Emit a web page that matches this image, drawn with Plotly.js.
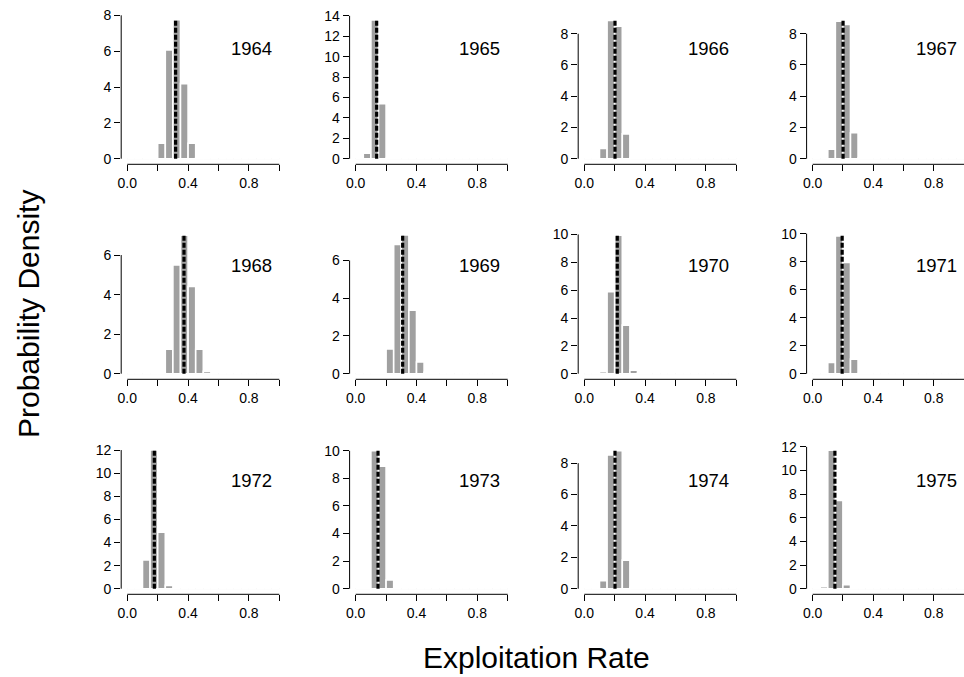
<!DOCTYPE html>
<html>
<head>
<meta charset="utf-8">
<script src="https://cdn.plot.ly/plotly-3.0.1.min.js"></script>
<style>html,body{margin:0;padding:0;background:#fff;}#chart{width:964px;height:677px;}</style>
</head>
<body>
<div id="chart"></div>
<script>
// ---- data ----
const years = ['1964','1965','1966','1967','1968','1969','1970','1971','1972','1973','1974','1975'];
const binMid = [0.025,0.075,0.125,0.175,0.225,0.275,0.325,0.375,0.425,0.475,0.525,0.575,0.625,0.675,0.725,0.775,0.825,0.875,0.925,0.975];
const d1964 = [0,0,0,0.02,0.86,6.07,7.75,4.19,0.86,0.05,0,0,0,0,0,0,0,0,0,0];
const d1965 = [0,0.55,13.6,5.38,0.05,0,0,0,0,0,0,0,0,0,0,0,0,0,0,0];
const d1966 = [0,0,0.66,8.85,8.49,1.59,0.05,0,0,0,0,0,0,0,0,0,0,0,0,0];
const d1967 = [0,0,0.61,8.8,8.6,1.66,0.05,0,0,0,0,0,0,0,0,0,0,0,0,0];
const d1968 = [0,0,0,0,0.05,1.24,5.5,7.0,4.41,1.24,0.12,0,0,0,0,0,0,0,0,0];
const d1969 = [0,0,0,0.02,1.31,6.85,7.35,3.36,0.62,0.07,0,0,0,0,0,0,0,0,0,0];
const d1970 = [0,0,0.15,5.88,9.95,3.49,0.26,0.03,0,0,0,0,0,0,0,0,0,0,0,0];
const d1971 = [0,0,0.8,9.84,7.94,1.04,0.02,0,0,0,0,0,0,0,0,0,0,0,0,0];
const d1972 = [0,0,2.48,12.0,4.9,0.29,0,0,0,0,0,0,0,0,0,0,0,0,0,0];
const d1973 = [0,0.1,10.0,8.89,0.63,0,0,0,0,0,0,0,0,0,0,0,0,0,0,0];
const d1974 = [0,0,0.51,8.53,8.79,1.82,0.07,0,0,0,0,0,0,0,0,0,0,0,0,0];
const d1975 = [0,0.17,11.72,7.47,0.34,0,0,0,0,0,0,0,0,0,0,0,0,0,0,0];
const densities = [d1964,d1965,d1966,d1967,d1968,d1969,d1970,d1971,d1972,d1973,d1974,d1975];
const estimate = [0.318,0.138,0.202,0.201,0.373,0.309,0.217,0.195,0.178,0.147,0.202,0.147];
const lineTop  = [7.8,13.7,8.95,8.95,7.07,7.41,10.04,9.98,12.1,10.14,8.91,11.83];
const yTickMax = [8,14,8,8,6,6,10,10,12,10,8,12];
const xTickVals = [0,0.2,0.4,0.6,0.8,1.0];
const xTickText = ['0.0','','0.4','','0.8',''];

// ---- layout geometry (pixels) ----
const W = 964, H = 677;
const colLeft = [121.2, 349.6, 578.2, 806.6];
const colW = 164.2;
const rowTop = [13.3, 228.3, 443.3];
const rowH = 151;
const yearY = [49, 265.5, 480.5];
const FONT = 'Liberation Sans, Arial, sans-serif';

const traces = [];
const layout = {
  width: W, height: H,
  margin: {l:0, r:0, t:0, b:0},
  paper_bgcolor: '#fff', plot_bgcolor: '#fff',
  showlegend: false, bargap: 0,
  font: {family: FONT, color: '#000'},
  shapes: [], annotations: []
};

for (let i = 0; i < 12; i++) {
  const r = Math.floor(i / 4), c = i % 4;
  const s = i === 0 ? '' : String(i + 1);
  const xa = 'x' + s, ya = 'y' + s;
  const left = colLeft[c];
  const right = Math.min(left + colW, W);
  const xEnd = c === 3 ? 1.0 : 1.04;
  const top = rowTop[r], bot = rowTop[r] + rowH;

  traces.push({
    type: 'bar', x: binMid, y: densities[i], width: 0.05,
    xaxis: xa, yaxis: ya,
    marker: {color: '#a0a0a0', line: {color: '#ffffff', width: 1.6}},
    hoverinfo: 'skip'
  });
  traces.push({
    type: 'scatter', mode: 'lines',
    x: [estimate[i], estimate[i]], y: [0, lineTop[i]],
    xaxis: xa, yaxis: ya,
    line: {color: '#000', width: 3.2, dash: '5px,2px'},
    hoverinfo: 'skip'
  });

  layout['xaxis' + s] = {
    domain: [left / W, right / W], range: [-0.04, xEnd], anchor: ya,
    tickmode: 'array', tickvals: xTickVals, ticktext: xTickText,
    ticks: 'outside', ticklen: 6, tickwidth: 1, tickcolor: '#000',
    showgrid: false, zeroline: false, showline: false,
    tickfont: {family: FONT, size: 14, color: '#000'}, fixedrange: true
  };
  layout['yaxis' + s] = {
    domain: [1 - bot / H, 1 - top / H],
    range: [-0.04 * lineTop[i], 1.04 * lineTop[i]], anchor: xa,
    tick0: 0, dtick: 2,
    ticks: 'outside', ticklen: 6, tickwidth: 1, tickcolor: '#000',
    showgrid: false, zeroline: false, showline: false,
    tickfont: {family: FONT, size: 14, color: '#000'}, fixedrange: true
  };

  layout.shapes.push({type:'line', layer:'below', xref: xa, yref: ya, x0:0, x1:1, y0:0, y1:0,
    line:{color:'#e4e4e4', width:1}});
  layout.shapes.push({type:'line', xref: xa, yref: ya + ' domain', x0:0, x1:1, y0:0, y1:0,
    line:{color:'#000', width:1}});
  layout.shapes.push({type:'line', xref: xa + ' domain', yref: ya, x0:0, x1:0, y0:0, y1:yTickMax[i],
    line:{color:'#000', width:1}});

  layout.annotations.push({
    text: years[i], xref: xa, yref: 'paper', x: 0.816, y: 1 - yearY[r] / H,
    xanchor: 'center', yanchor: 'middle', showarrow: false,
    font: {family: FONT, size: 18.5, color: '#000'}
  });
}

layout.annotations.push({
  text: 'Exploitation Rate', xref: 'paper', yref: 'paper',
  x: 536 / W, y: 1 - 657 / H, xanchor: 'center', yanchor: 'middle', showarrow: false,
  font: {family: FONT, size: 30, color: '#000'}
});
layout.annotations.push({
  text: 'Probability Density', xref: 'paper', yref: 'paper',
  x: 28 / W, y: 1 - 314 / H, xanchor: 'center', yanchor: 'middle', showarrow: false,
  textangle: -90,
  font: {family: FONT, size: 30, color: '#000'}
});

Plotly.newPlot('chart', traces, layout, {staticPlot: true, displayModeBar: false});
</script>
</body>
</html>
